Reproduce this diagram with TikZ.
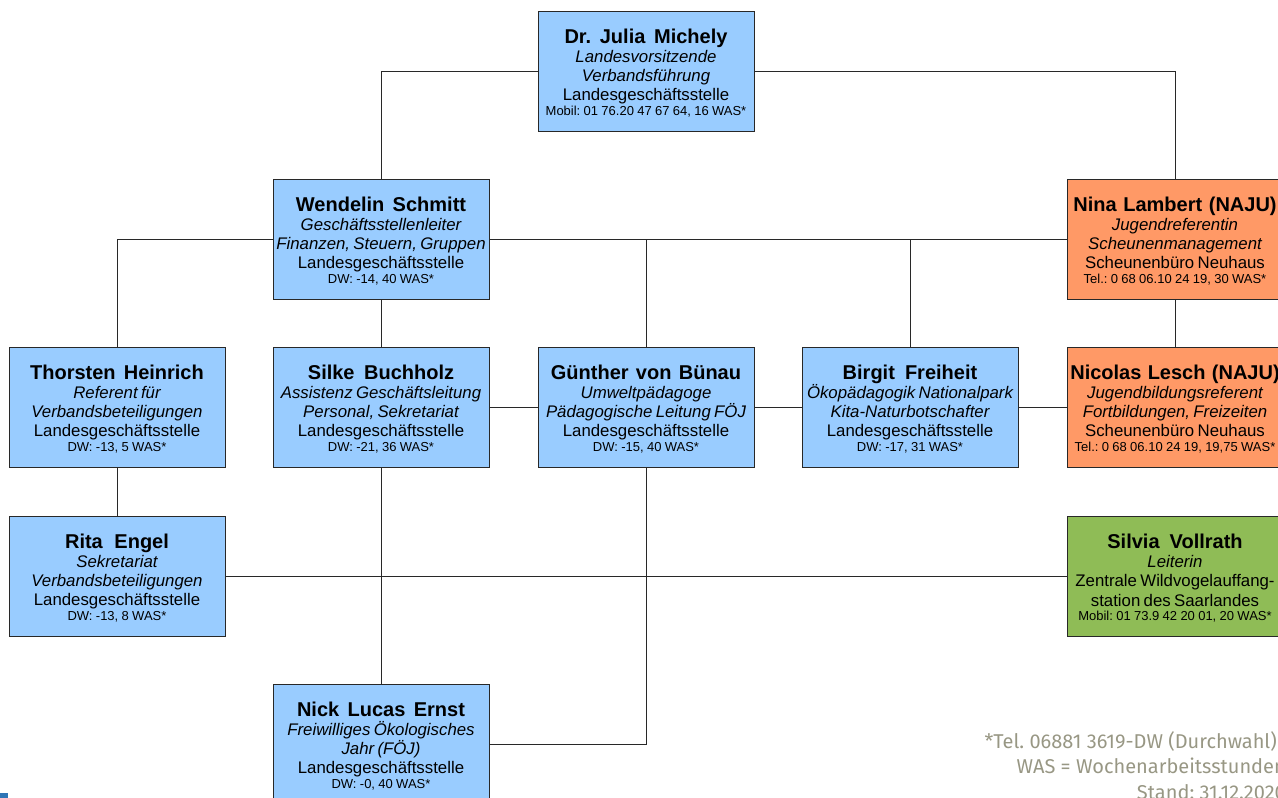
\documentclass[tikz,border=0pt]{standalone}
\usepackage{fontspec}
\setmainfont{Liberation Sans}
\newfontfamily\footfont{Fira Sans}
\frenchspacing
\definecolor{cblue}{RGB}{153,204,255}
\definecolor{corange}{RGB}{255,153,102}
\definecolor{cgreen}{RGB}{143,188,86}
\definecolor{cfoot}{RGB}{152,151,132}
\definecolor{cline}{RGB}{40,40,40}
\definecolor{clogo}{RGB}{46,117,182}
\newcommand\cname[1]{{\fontsize{20}{22}\selectfont\bfseries\spaceskip=.3em plus .1em minus .05em \rule{0pt}{18.5pt}#1\par}}
\newcommand\crole[1]{{\fontsize{16.8}{19}\selectfont\itshape #1\par}}
\newcommand\cplace[1]{{\fontsize{16.8}{19.5}\selectfont #1\par}}
\newcommand\csmall[1]{{\fontsize{13}{14.5}\selectfont #1\par}}
\tikzset{
  card/.style={draw=cline, line width=1pt, minimum width=216pt, minimum height=120pt,
    text width=216pt, inner sep=0pt, align=center},
  bluecard/.style={card, fill=cblue},
  orangecard/.style={card, fill=corange},
  greencard/.style={card, fill=cgreen},
  conn/.style={draw=cline, line width=0.9pt},
  foot/.style={anchor=base east, inner sep=0pt, text=cfoot, font=\footfont\fontsize{20}{22}\selectfont}
}
\begin{document}
\begin{tikzpicture}[x=1pt,y=-1pt]
\useasboundingbox (0,0) rectangle (1278,798);
\clip (0,0) rectangle (1278,798);
\node[bluecard] (julia) at (646,71) {\cname{Dr. Julia Michely}\crole{Landesvorsitzende}\crole{Verbandsführung}\cplace{Landesgeschäftsstelle}\csmall{Mobil: 01 76.20 47 67 64, 16 WAS*}};
\node[bluecard] (wendelin) at (381,239) {\cname{Wendelin Schmitt}\crole{Geschäftsstellenleiter}\crole{Finanzen, Steuern, Gruppen}\cplace{Landesgeschäftsstelle}\csmall{DW: -14, 40 WAS*}};
\node[orangecard] (nina) at (1175,239) {\cname{Nina Lambert (NAJU)}\crole{Jugendreferentin}\crole{Scheunenmanagement}\cplace{Scheunenbüro Neuhaus}\csmall{Tel.: 0 68 06.10 24 19, 30 WAS*}};
\node[bluecard] (thorsten) at (117,407) {\cname{Thorsten Heinrich}\crole{Referent für}\crole{Verbandsbeteiligungen}\cplace{Landesgeschäftsstelle}\csmall{DW: -13, 5 WAS*}};
\node[bluecard] (silke) at (381,407) {\cname{Silke Buchholz}\crole{Assistenz Geschäftsleitung}\crole{Personal, Sekretariat}\cplace{Landesgeschäftsstelle}\csmall{DW: -21, 36 WAS*}};
\node[bluecard] (guenther) at (646,407) {\cname{Günther von Bünau}\crole{Umweltpädagoge}\crole{Pädagogische Leitung FÖJ}\cplace{Landesgeschäftsstelle}\csmall{DW: -15, 40 WAS*}};
\node[bluecard] (birgit) at (910,407) {\cname{Birgit Freiheit}\crole{Ökopädagogik Nationalpark}\crole{Kita-Naturbotschafter}\cplace{Landesgeschäftsstelle}\csmall{DW: -17, 31 WAS*}};
\node[orangecard] (nicolas) at (1175,407) {\cname{Nicolas Lesch (NAJU)}\crole{Jugendbildungsreferent}\crole{Fortbildungen, Freizeiten}\cplace{Scheunenbüro Neuhaus}\csmall{Tel.: 0 68 06.10 24 19, 19,75 WAS*}};
\node[bluecard] (rita) at (117,576) {\cname{Rita Engel}\crole{Sekretariat}\crole{Verbandsbeteiligungen}\cplace{Landesgeschäftsstelle}\csmall{DW: -13, 8 WAS*}};
\node[greencard] (silvia) at (1175,576) {\cname{Silvia Vollrath}\crole{Leiterin}\cplace{Zentrale Wildvogelauffang-}\cplace{station des Saarlandes}\csmall{Mobil: 01 73.9 42 20 01, 20 WAS*}};
\node[bluecard] (nick) at (381,744) {\cname{Nick Lucas Ernst}\crole{Freiwilliges Ökologisches}\crole{Jahr (FÖJ)}\cplace{Landesgeschäftsstelle}\csmall{DW: -0, 40 WAS*}};
% connectors
\draw[conn] (julia.west) -| (wendelin.north);
\draw[conn] (julia.east) -| (nina.north);
\draw[conn] (wendelin.west) -| (thorsten.north);
\draw[conn] (wendelin.east) -- (nina.west);
\draw[conn] (guenther.north) -- (guenther.north |- wendelin.east);
\draw[conn] (birgit.north) -- (birgit.north |- wendelin.east);
\draw[conn] (wendelin.south) -- (silke.north);
\draw[conn] (nina.south) -- (nicolas.north);
\draw[conn] (silke.east) -- (guenther.west);
\draw[conn] (guenther.east) -- (birgit.west);
\draw[conn] (birgit.east) -- (nicolas.west);
\draw[conn] (thorsten.south) -- (rita.north);
\draw[conn] (rita.east) -- (silvia.west);
\draw[conn] (silke.south) -- (nick.north);
\draw[conn] (guenther.south) |- (nick.east);
% footnote
\node[foot] (foot1) at (1277,748) {*Tel. 06881 3619-DW (Durchwahl)};
\node[foot] (foot2) at (1286,773) {WAS = Wochenarbeitsstunden};
\node[foot] (foot3) at (1286,799) {Stand: 31.12.2020};
\fill[clogo] (0,793) rectangle (8,798);
\end{tikzpicture}
\end{document}
